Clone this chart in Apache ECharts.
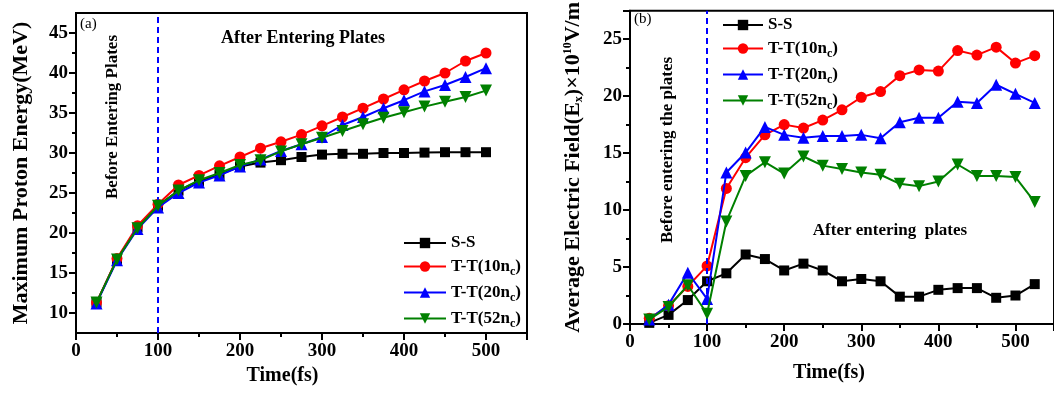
<!DOCTYPE html>
<html>
<head>
<meta charset="utf-8">
<script src="https://cdn.jsdelivr.net/npm/echarts@6/dist/echarts.min.js"></script>
<style>html,body{margin:0;padding:0;background:#fff}#c{width:1054px;height:394px}</style>
</head>
<body>
<div id="c"></div>
<script>
// ---- Data ----
const timeA = [25,50,75,100,125,150,175,200,225,250,275,300,325,350,375,400,425,450,475,500];
const energySS   = [11.3,16.7,20.7,23.4,25.3,26.5,27.3,28.3,28.8,29.1,29.5,29.8,29.9,29.9,30.0,30.0,30.05,30.1,30.1,30.1];
const energyT10  = [11.3,16.8,20.9,23.6,26.0,27.2,28.4,29.5,30.6,31.4,32.3,33.4,34.5,35.6,36.75,37.9,39.0,40.0,41.5,42.5];
const energyT20  = [11.2,16.6,20.5,23.2,25.0,26.3,27.2,28.3,29.2,30.25,31.1,32.0,33.5,34.5,35.6,36.6,37.7,38.5,39.5,40.6];
const energyT52  = [11.3,16.7,20.6,23.4,25.3,26.6,27.5,28.5,29.1,30.2,31.1,31.9,32.75,33.6,34.4,35.1,35.8,36.4,37.0,37.8];

const timeB = [25,50,75,100,125,150,175,200,225,250,275,300,325,350,375,400,425,450,475,500,525];
const fieldSS  = [0.1,0.8,2.1,3.75,4.45,6.1,5.7,4.7,5.3,4.7,3.75,3.95,3.75,2.4,2.4,3.0,3.15,3.15,2.3,2.5,3.5];
const fieldT10 = [0.5,1.6,3.3,5.1,11.9,14.6,16.6,17.5,17.2,17.9,18.8,19.9,20.4,21.8,22.3,22.2,24.0,23.6,24.3,22.9,23.55];
const fieldT20 = [0.4,1.7,4.5,2.2,13.3,15.05,17.3,16.6,16.35,16.5,16.5,16.6,16.3,17.7,18.1,18.1,19.5,19.4,21.0,20.2,19.4];
const fieldT52 = [0.4,1.5,3.4,0.9,9.0,13.0,14.2,13.2,14.7,13.9,13.6,13.3,13.1,12.3,12.1,12.5,14.0,13.0,13.0,12.9,10.7];

const seriesNames = ['S-S','T-T(10nc)','T-T(20nc)','T-T(52nc)'];
const yTicksA = [10,15,20,25,30,35,40,45];
const yMinorA = [12.5,17.5,22.5,27.5,32.5,37.5,42.5];
const boundaryTime = 100;

// ---- Style ----
const FONT = 'Liberation Serif';
const colors = ['#000000','#ff0000','#0000ff','#008000'];
const symbols = ['rect','circle','triangle','path://M0,0 L10,0 L5,9 Z'];
const symSizes = [10,11,12,12];

const chart = echarts.init(document.getElementById('c'), null, {renderer:'canvas'});

function legendFmt(name){
  const m = name.match(/^(T-T\(\d+n)c\)$/);
  if (m) return m[1] + '{s|c}' + ')';
  return name;
}
const legendRich = {s:{fontSize:12, fontWeight:'bold', fontFamily:FONT, color:'#000', lineHeight:12, padding:[11,0,0,0]}};
const legendText = {color:'#000', fontFamily:FONT, fontWeight:'bold', fontSize:17, lineHeight:18, rich:legendRich};

function mkSeries(data, x, i, xi, yi, withLine){
  const s = {
    name: seriesNames[i], type:'line', xAxisIndex:xi, yAxisIndex:yi,
    data: x.map((t,k)=>[t,data[k]]),
    symbol: symbols[i], symbolSize: symSizes[i], showSymbol:true,
    itemStyle:{color:colors[i]}, lineStyle:{color:colors[i], width:2},
    z: 3 + i, animation:false
  };
  if (withLine){
    s.markLine = {silent:true, symbol:'none', label:{show:false},
      lineStyle:{color:'#0000ff', type:[6,4], width:2},
      data:[{xAxis:boundaryTime}]};
  }
  return s;
}

const axisLine = {show:true, onZero:false, lineStyle:{color:'#000', width:2}};
const tickLabelStyle = {color:'#000', fontFamily:FONT, fontWeight:'bold', fontSize:19};

const option = {
  animation:false,
  backgroundColor:'#fff',
  grid:[
    {left:76, top:13, width:451, height:320, show:true, borderColor:'#000', borderWidth:2, backgroundColor:'transparent'},
    {left:630, top:6, width:432, height:318, show:true, borderColor:'#000', borderWidth:2, backgroundColor:'transparent'}
  ],
  legend:[
    {data:seriesNames, orient:'vertical', left:398, top:229, itemGap:3, itemWidth:42, itemHeight:13,
     formatter:legendFmt, textStyle:legendText},
    {data:seriesNames, orient:'vertical', left:717, top:11, itemGap:3, itemWidth:40, itemHeight:13,
     formatter:legendFmt, textStyle:legendText}
  ],
  xAxis:[
    {type:'value', gridIndex:0, min:0, max:550, interval:100,
     axisLine:axisLine, axisTick:{show:true, inside:false, length:7, lineStyle:{color:'#000', width:2}},
     minorTick:{show:true, splitNumber:2, length:4, lineStyle:{color:'#000', width:2}},
     splitLine:{show:false}, minorSplitLine:{show:false},
     axisLabel:{...tickLabelStyle, margin:9, showMaxLabel:false},
     name:'Time(fs)', nameLocation:'middle', nameGap:33,
     nameTextStyle:{color:'#000', fontFamily:FONT, fontWeight:'bold', fontSize:20, padding:[0,38,0,0]}},
    {type:'value', gridIndex:1, min:0, max:550, interval:100,
     axisLine:axisLine, axisTick:{show:true, length:7, lineStyle:{color:'#000', width:2}},
     minorTick:{show:true, splitNumber:2, length:4, lineStyle:{color:'#000', width:2}},
     splitLine:{show:false}, minorSplitLine:{show:false},
     axisLabel:{...tickLabelStyle, margin:9, showMaxLabel:false},
     name:'Time(fs)', nameLocation:'middle', nameGap:39,
     nameTextStyle:{color:'#000', fontFamily:FONT, fontWeight:'bold', fontSize:20, padding:[0,26,0,0]}}
  ],
  yAxis:[
    {type:'value', gridIndex:0, min:7.5, max:47.5,
     axisLine:axisLine,
     axisTick:{show:true, length:7, customValues:yTicksA, lineStyle:{color:'#000', width:2}},
     axisLabel:{...tickLabelStyle, margin:8, customValues:yTicksA},
     splitLine:{show:false},
     name:'Maximum Proton Energy(MeV)', nameLocation:'middle', nameGap:44,
     nameTextStyle:{color:'#000', fontFamily:FONT, fontWeight:'bold', fontSize:22}},
    {type:'value', gridIndex:0, min:7.5, max:47.5, position:'left',
     axisLine:{show:false},
     axisTick:{show:true, length:4, customValues:yMinorA, lineStyle:{color:'#000', width:2}},
     axisLabel:{show:false}, splitLine:{show:false}},
    {type:'value', gridIndex:1, min:0, max:27.5, interval:5,
     axisLine:axisLine,
     axisTick:{show:true, length:7, lineStyle:{color:'#000', width:2}},
     minorTick:{show:true, splitNumber:2, length:4, lineStyle:{color:'#000', width:2}},
     axisLabel:{...tickLabelStyle, margin:8, showMaxLabel:false},
     splitLine:{show:false}, minorSplitLine:{show:false},
     name:'Average Electric Field(E{sub|x})×10{sup|10}V/m', nameLocation:'middle', nameGap:45,
     nameTextStyle:{color:'#000', fontFamily:FONT, fontWeight:'bold', fontSize:22,
       rich:{sub:{fontSize:12, fontFamily:FONT, fontWeight:'bold', color:'#000', padding:[11,0,0,0]},
             sup:{fontSize:12, fontFamily:FONT, fontWeight:'bold', color:'#000', padding:[0,0,11,0]}}}}
  ],
  series:[
    mkSeries(energySS, timeA, 0, 0, 0, true),
    mkSeries(energyT10, timeA, 1, 0, 0, false),
    mkSeries(energyT20, timeA, 2, 0, 0, false),
    mkSeries(energyT52, timeA, 3, 0, 0, false),
    mkSeries(fieldSS, timeB, 0, 1, 2, true),
    mkSeries(fieldT10, timeB, 1, 1, 2, false),
    mkSeries(fieldT20, timeB, 2, 1, 2, false),
    mkSeries(fieldT52, timeB, 3, 1, 2, false)
  ],
  graphic:[
    {type:'text', x:80, y:17, style:{text:'(a)', font:'normal 15px "Liberation Serif"', fill:'#000', align:'left', verticalAlign:'top'}},
    {type:'text', x:303, y:38, style:{text:'After Entering Plates', font:'bold 18px "Liberation Serif"', fill:'#000', align:'center', verticalAlign:'middle'}},
    {type:'text', x:113, y:117, rotation:Math.PI/2, style:{text:'Before Entering Plates', font:'bold 17px "Liberation Serif"', fill:'#000', align:'center', verticalAlign:'middle'}},
    {type:'text', x:634, y:12, style:{text:'(b)', font:'normal 15px "Liberation Serif"', fill:'#000', align:'left', verticalAlign:'top'}},
    {type:'text', x:668, y:150, rotation:Math.PI/2, style:{text:'Before entering the plates', font:'bold 17px "Liberation Serif"', fill:'#000', align:'center', verticalAlign:'middle'}},
    {type:'text', x:890, y:231, style:{text:'After entering  plates', font:'bold 17px "Liberation Serif"', fill:'#000', align:'center', verticalAlign:'middle'}}
  ]
};
chart.setOption(option);
</script>
</body>
</html>
